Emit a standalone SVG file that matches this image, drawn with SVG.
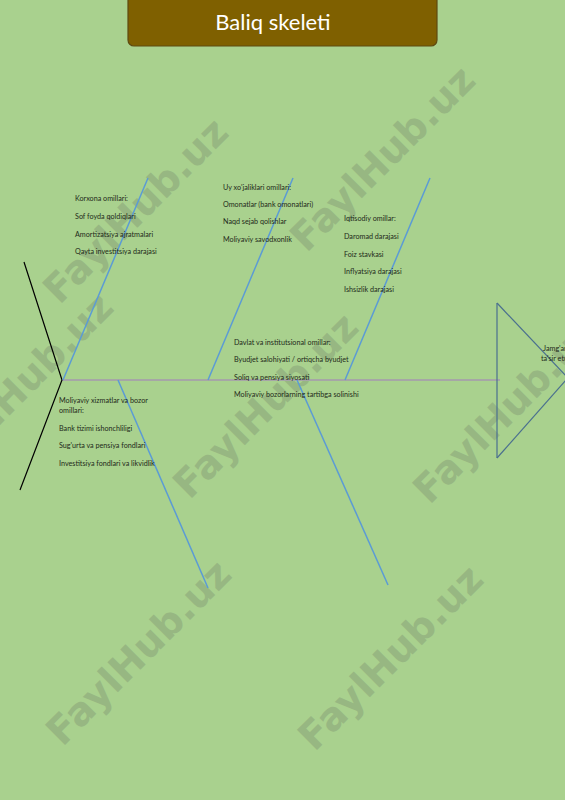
<svg xmlns="http://www.w3.org/2000/svg" width="565" height="800" viewBox="0 0 565 800">
<style>
.t{font-family:Lato,"Liberation Sans",Arial,sans-serif;font-size:7.2px;fill:#1e2a1a}
.wm{font-family:"DejaVu Sans","Liberation Sans",Arial,sans-serif;font-size:39px;font-weight:bold;fill:#97b782}
.bone{stroke:#5b9bd5;stroke-width:1.5;fill:none}
.tail{stroke:#000;stroke-width:1.2;fill:none}
.head{stroke:#4a6f8f;stroke-width:1.2;fill:none}
</style>
<rect width="565" height="800" fill="#a9d18e"/>
<g id="watermarks">
<text class="wm" text-anchor="middle" transform="translate(145,220) rotate(-45)">FaylHub.uz</text>
<text class="wm" text-anchor="middle" transform="translate(392,168) rotate(-45)">FaylHub.uz</text>
<text class="wm" text-anchor="middle" transform="translate(30,395) rotate(-45)">FaylHub.uz</text>
<text class="wm" text-anchor="middle" transform="translate(275,415) rotate(-45)">FaylHub.uz</text>
<text class="wm" text-anchor="middle" transform="translate(515,420) rotate(-45)">FaylHub.uz</text>
<text class="wm" text-anchor="middle" transform="translate(148,662) rotate(-45)">FaylHub.uz</text>
<text class="wm" text-anchor="middle" transform="translate(400,667) rotate(-45)">FaylHub.uz</text>
</g>
<g id="title">
<rect x="128" y="-6" width="309" height="52" rx="6" fill="#7f6000" stroke="#5e4a10" stroke-width="1.2"/>
<text x="273" y="30" text-anchor="middle" font-family="Lato,'Liberation Sans',Arial,sans-serif" font-size="22" fill="#ffffff">Baliq skeleti</text>
</g>
<g id="connectors">
<line x1="62" y1="380" x2="500" y2="380" stroke="#a6a6a6" stroke-width="2"/>
<polyline class="tail" points="24,262 62,380 20,490"/>
<line class="bone" x1="148" y1="178" x2="63" y2="380"/>
<line class="bone" x1="118" y1="380" x2="208" y2="588"/>
<line class="bone" x1="293" y1="178" x2="208" y2="380"/>
<line class="bone" x1="297" y1="380" x2="388" y2="585"/>
<line class="bone" x1="430" y1="178" x2="345" y2="380"/>
</g>
<g id="head">
<polyline class="head" points="497,303 497,458"/>
<line class="head" x1="497" y1="303" x2="566" y2="376"/>
<line class="head" x1="497" y1="458" x2="566" y2="380"/>
<text class="t" x="543" y="351">Jamg'arma</text>
<text class="t" x="541" y="361">ta'sir etuvchi</text>
</g>
<g id="korxona">
<text class="t" x="75" y="201">Korxona omillari:</text>
<text class="t" x="75" y="219">Sof foyda qoldiqlari</text>
<text class="t" x="75" y="237">Amortizatsiya ajratmalari</text>
<text class="t" x="75" y="254">Qayta investitsiya darajasi</text>
</g>
<g id="uyxojalik">
<text class="t" x="223" y="190">Uy xo'jaliklari omillari:</text>
<text class="t" x="223" y="207">Omonatlar (bank omonatlari)</text>
<text class="t" x="223" y="224">Naqd sejab qolishlar</text>
<text class="t" x="223" y="242">Moliyaviy savodxonlik</text>
</g>
<g id="iqtisodiy">
<text class="t" x="344" y="221">Iqtisodiy omillar:</text>
<text class="t" x="344" y="239">Daromad darajasi</text>
<text class="t" x="344" y="257">Foiz stavkasi</text>
<text class="t" x="344" y="274">Inflyatsiya darajasi</text>
<text class="t" x="344" y="292">Ishsizlik darajasi</text>
</g>
<g id="davlat">
<text class="t" x="234" y="345">Davlat va institutsional omillar:</text>
<text class="t" x="234" y="362">Byudjet salohiyati / ortiqcha byudjet</text>
<text class="t" x="234" y="380">Soliq va pensiya siyosati</text>
<text class="t" x="234" y="397">Moliyaviy bozorlarning tartibga solinishi</text>
</g>
<g id="moliyaviy">
<text class="t" x="59" y="403">Moliyaviy xizmatlar va bozor</text>
<text class="t" x="59" y="413">omillari:</text>
<text class="t" x="59" y="431">Bank tizimi ishonchliligi</text>
<text class="t" x="59" y="448">Sug'urta va pensiya fondlari</text>
<text class="t" x="59" y="466">Investitsiya fondlari va likvidlik</text>
</g>
</svg>
